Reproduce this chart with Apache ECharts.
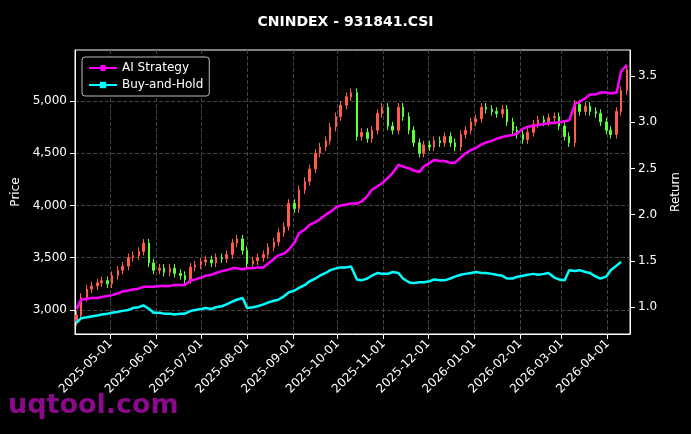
<!DOCTYPE html>
<html>
<head>
<meta charset="utf-8">
<script src="https://cdn.jsdelivr.net/npm/echarts@6/dist/echarts.min.js"></script>
<style>html,body{margin:0;background:#000}#main{width:691px;height:434px}</style>
</head>
<body>
<div id="main"></div>
<script>
// closes, two points per week (Tue / Fri) starting 2025-04-08
var closes = [2950,3120,3200,3230,3260,3280,3250,3330,3380,3420,3500,3520,3560,3640,3450,3380,3400,3360,3400,3350,
  3330,3290,3410,3430,3460,3480,3450,3500,3490,3530,3640,3680,3570,3440,3470,3500,3530,3600,3650,3740,
  3800,4020,3970,4150,4230,4350,4500,4560,4620,4750,4850,4960,5040,5080,4660,4700,4640,4720,4880,4940,
  4760,4720,4940,4850,4720,4600,4500,4580,4560,4620,4600,4660,4600,4560,4680,4720,4800,4830,4940,4920,
  4900,4880,4920,4800,4720,4680,4630,4700,4780,4820,4800,4840,4850,4760,4660,4600,4970,4900,4950,4900,
  4880,4800,4720,4680,4900,5100,5300];
var strategy = [0.98,1.08,1.09,1.10,1.10,1.11,1.12,1.13,1.15,1.17,1.18,1.19,1.20,1.22,1.22,1.22,1.23,1.23,1.23,1.24,
  1.24,1.24,1.29,1.30,1.32,1.34,1.35,1.37,1.39,1.40,1.42,1.42,1.41,1.42,1.42,1.43,1.43,1.47,1.52,1.56,
  1.58,1.62,1.70,1.80,1.84,1.89,1.92,1.95,2.00,2.03,2.08,2.10,2.11,2.12,2.12,2.14,2.20,2.27,2.31,2.34,
  2.40,2.45,2.54,2.52,2.50,2.48,2.46,2.52,2.56,2.59,2.58,2.58,2.56,2.56,2.62,2.66,2.70,2.72,2.76,2.78,
  2.80,2.82,2.84,2.85,2.86,2.88,2.93,2.95,2.96,2.97,2.98,2.99,2.99,3.00,3.01,3.02,3.20,3.22,3.26,3.30,
  3.30,3.32,3.32,3.31,3.32,3.55,3.62];
var buyHold = [0.83,0.88,0.89,0.90,0.91,0.92,0.93,0.94,0.95,0.96,0.97,0.99,1.00,1.02,0.98,0.94,0.94,0.93,0.93,0.92,
  0.93,0.93,0.96,0.97,0.98,0.99,0.98,1.00,1.01,1.03,1.06,1.08,1.10,0.99,1.00,1.01,1.03,1.05,1.07,1.08,
  1.12,1.16,1.18,1.21,1.24,1.28,1.31,1.34,1.37,1.40,1.42,1.43,1.43,1.44,1.30,1.29,1.31,1.34,1.37,1.36,
  1.36,1.38,1.37,1.31,1.27,1.26,1.27,1.27,1.28,1.30,1.29,1.29,1.31,1.33,1.35,1.36,1.37,1.38,1.37,1.37,
  1.36,1.35,1.34,1.31,1.31,1.33,1.34,1.35,1.36,1.35,1.36,1.37,1.32,1.30,1.29,1.40,1.39,1.40,1.38,1.37,
  1.33,1.31,1.33,1.40,1.45,1.49];
var priceTicks = [3000,3500,4000,4500,5000];
var returnTicks = [1.0,1.5,2.0,2.5,3.0,3.5];

var start = Date.UTC(2025, 3, 8);
var day = 86400000;
var dates = closes.map(function (v, i) {
  return start + (Math.floor(i / 2) * 7 + (i % 2) * 3) * day;
});
var candles = closes.map(function (c, i) {
  var o = i ? closes[i - 1] : c - 60;
  return [dates[i], o, c, Math.min(o, c) - 40, Math.max(o, c) + 40];
});
var pair = function (arr) { return arr.map(function (v, i) { return [dates[i], v]; }); };

var chart = echarts.init(document.getElementById('main'));
var txt = { color: '#fff', fontFamily: 'DejaVu Sans', fontSize: 12 };
chart.setOption({
  backgroundColor: '#000',
  animation: false,
  title: { text: 'CNINDEX - 931841.CSI', left: 'center', top: 10,
    textStyle: { color: '#fff', fontFamily: 'DejaVu Sans', fontSize: 14, fontWeight: 'bold' } },
  graphic: [{ type: 'text', left: 8, top: 392,
    style: { text: 'uqtool.com', fill: '#8b0a8b', font: 'bold 27px DejaVu Sans' } }],
  legend: {
    left: 82, top: 57, orient: 'vertical', itemGap: 5, itemWidth: 28, itemHeight: 8,
    backgroundColor: '#000', borderColor: '#bbb', borderWidth: 1, borderRadius: 3, padding: [5, 6],
    textStyle: { color: '#fff', fontFamily: 'DejaVu Sans', fontSize: 12 },
    data: ['AI Strategy', 'Buy-and-Hold']
  },
  grid: { left: 75, right: 61, top: 50, bottom: 100, show: true, borderColor: '#fff', borderWidth: 1 },
  xAxis: {
    type: 'time', min: Date.UTC(2025, 3, 7), max: Date.UTC(2026, 3, 16), splitNumber: 12,
    axisLine: { lineStyle: { color: '#fff' } }, axisTick: { lineStyle: { color: '#fff' } },
    axisLabel: Object.assign({ rotate: 45, formatter: '{yyyy}-{MM}-{dd}', hideOverlap: false }, txt),
    splitLine: { show: true, lineStyle: { color: '#444', type: 'dashed' } }
  },
  yAxis: [{
    type: 'value', min: 2770, max: 5488, name: 'Price', nameLocation: 'middle', nameGap: 48,
    nameTextStyle: txt,
    axisLine: { show: true, lineStyle: { color: '#fff' } }, axisTick: { show: true, customValues: priceTicks },
    axisLabel: Object.assign({ customValues: priceTicks }, txt),
    splitLine: { show: true, lineStyle: { color: '#444', type: 'dashed' } }
  }, {
    type: 'value', min: 0.71, max: 3.78, name: 'Return', nameLocation: 'middle', nameGap: 40,
    nameTextStyle: txt,
    axisLine: { show: true, lineStyle: { color: '#fff' } }, axisTick: { show: true, customValues: returnTicks },
    axisLabel: Object.assign({ customValues: returnTicks, formatter: function (v) { return v.toFixed(1); } }, txt),
    splitLine: { show: false }
  }],
  series: [{
    type: 'candlestick', data: candles, barMaxWidth: 2,
    itemStyle: { color: '#ff5a4a', color0: '#5cff3c', borderColor: '#ff5a4a', borderColor0: '#5cff3c', borderWidth: 1 }
  }, {
    name: 'AI Strategy', type: 'line', yAxisIndex: 1, data: pair(strategy),
    symbol: 'circle', symbolSize: 4, showSymbol: false, color: '#ff00ff', lineStyle: { width: 2.5 }
  }, {
    name: 'Buy-and-Hold', type: 'line', yAxisIndex: 1, data: pair(buyHold),
    symbol: 'rect', symbolSize: 4, showSymbol: false, color: '#00ffff', lineStyle: { width: 2.5 }
  }]
});
</script>
</body>
</html>
